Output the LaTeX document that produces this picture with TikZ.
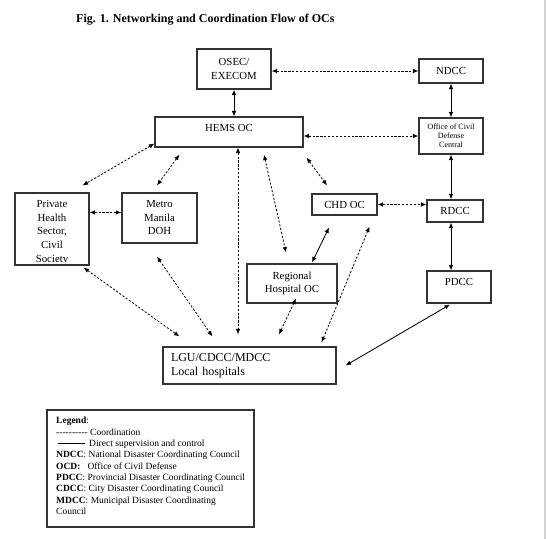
\documentclass[tikz,border=0pt]{standalone}
\usepackage{fontspec}
\setmainfont{Liberation Serif}
\usetikzlibrary{arrows.meta}

\begin{document}
\begin{tikzpicture}[x=1pt,y=-1pt,
    box/.style={draw=black!80,line width=1.1pt,align=center,inner sep=0pt,
        font=\fontsize{10.8}{13.5}\selectfont},
    coordination/.style={line width=0.8pt,dash pattern=on 2.2pt off 1.7pt,
        {Latex[length=5.5pt,width=4.5pt]}-{Latex[length=5.5pt,width=4.5pt]}},
    supervision/.style={line width=0.85pt,
        {Latex[length=5.5pt,width=4.5pt]}-{Latex[length=5.5pt,width=4.5pt]}},
    ]
    \useasboundingbox (0,0) rectangle (546,539);
    \draw[gray!35,line width=2pt] (544.5,0) -- (544.5,539);

    \node[anchor=base west,inner sep=0pt,font=\bfseries\fontsize{12}{14}\selectfont] (title)
        at (76,22.5) {Fig. 1. Networking and Coordination Flow of OCs};

    \node[box,minimum width=74pt,minimum height=40pt] (osec) at (234,69) {OSEC/\\EXECOM};
    \node[box,minimum width=64pt,minimum height=24pt] (ndcc) at (451,71) {NDCC};
    \node[box,minimum width=148pt,minimum height=30pt,text depth=8pt] (hems) at (229,132) {HEMS OC};
    \node[box,minimum width=64pt,minimum height=36pt,font=\fontsize{8}{9}\selectfont] (office)
        at (451,136) {Office of Civil\\Defense\\Central};
    \node[box,minimum width=74pt,minimum height=72pt] (private) at (52,229) {};
    \begin{scope}
        \clip (private.north west) rectangle ([shift={(0,-4.5)}]private.south east);
        \node[align=center,inner sep=0pt,anchor=north,font=\fontsize{10.8}{13.8}\selectfont]
            (privatetext) at (52,200) {Private\\Health\\Sector,\\Civil\\Society};
    \end{scope}
    \node[box,minimum width=75pt,minimum height=50pt] (metro) at (159.5,218) {Metro\\Manila\\DOH};
    \node[box,minimum width=65pt,minimum height=21pt] (chd) at (344.5,204.5) {CHD OC};
    \node[box,minimum width=56pt,minimum height=22pt] (rdcc) at (455,211) {RDCC};
    \node[box,minimum width=90pt,minimum height=39pt] (regional) at (292,283.5) {Regional\\Hospital OC};
    \node[box,minimum width=64pt,minimum height=32pt,text depth=10.5pt] (pdcc) at (459,287) {PDCC};
    \node[box,minimum width=173pt,minimum height=37pt,text width=157pt,align=left,
        font=\fontsize{12}{14}\selectfont] (lgu) at (249.5,365.5) {LGU/CDCC/MDCC\\Local hospitals};

    % right column
    \draw[supervision] (osec.south) -- (osec.south |- hems.north);
    \draw[coordination] (osec.east |- ndcc.west) -- (ndcc.west);
    \draw[supervision] (ndcc.south) -- (office.north);
    \draw[coordination] (hems.east |- office.west) -- (office.west);
    \draw[supervision] (office.south) -- (office.south |- rdcc.north);
    \draw[supervision] (office.south |- rdcc.south) -- (office.south |- pdcc.north);
    \draw[coordination] (chd.east) -- (chd.east -| rdcc.west);
    \draw[supervision] ([shift={(-15.5,12)}]chd.south) -- ([shift={(20,-1)}]regional.north);
    \draw[supervision] ([shift={(-9,1)}]pdcc.south) -- ([shift={(9,0)}]lgu.east);

    % from HEMS OC
    \draw[coordination] ([shift={(0,-4)}]hems.south west) -- ([shift={(-7,-7)}]private.north east);
    \draw[coordination] ([shift={(25,7)}]hems.south west) -- ([shift={(-2.5,-7)}]metro.north);
    \draw[coordination] ([shift={(9,0)}]hems.south) -- ([shift={(-11.5,-12)}]lgu.north);
    \draw[coordination] ([shift={(35,7)}]hems.south) -- ([shift={(-6,-11)}]regional.north);
    \draw[coordination] ([shift={(3,10)}]hems.south east) -- ([shift={(-17.5,-8)}]chd.north);

    % towards LGU
    \draw[coordination] ([shift={(0,20)}]private.north east) -- ([shift={(0,20)}]metro.north west);
    \draw[coordination] ([shift={(-6,2)}]private.south east) -- ([shift={(17,-10)}]lgu.north west);
    \draw[coordination] ([shift={(-2.5,13)}]metro.south) -- ([shift={(50,-10)}]lgu.north west);
    \draw[coordination] ([shift={(4,-5)}]regional.south) -- ([shift={(29.5,-12)}]lgu.north);
    \draw[coordination] ([shift={(-8,11)}]chd.south east) -- ([shift={(-15,-4)}]lgu.north east);

    % legend
    \node[draw=black!80,line width=1.1pt,minimum width=207pt,minimum height=117pt,inner sep=0pt]
        (legend) at (150.5,468.5) {};
    \node[anchor=north west,align=left,inner sep=0pt,font=\fontsize{9.5}{11.35}\selectfont]
        (legendtext) at (56,417) {%
        \textbf{Legend}:\\
        -{}-{}-{}-{}-{}-{}-{}-{}-{}- Coordination\\
        \hspace*{2pt}\rule[2.6pt]{27pt}{0.8pt}\hspace{4pt}Direct supervision and control\\
        \textbf{NDCC}: National Disaster Coordinating Council\\
        \textbf{OCD:}~~~Office of Civil Defense\\
        \textbf{PDCC}: Provincial Disaster Coordinating Council\\
        \textbf{CDCC}: City Disaster Coordinating Council\\
        \textbf{MDCC}: Municipal Disaster Coordinating\\
        Council};
\end{tikzpicture}
\end{document}
